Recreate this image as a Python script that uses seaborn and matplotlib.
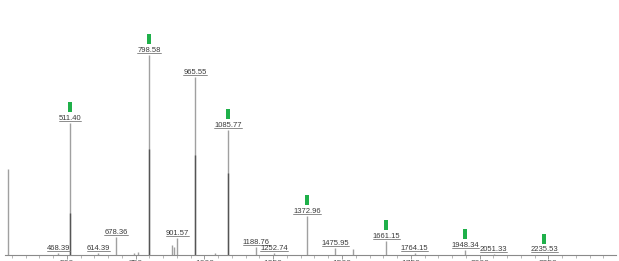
import numpy as np
import pandas as pd
import matplotlib
matplotlib.use("Agg")
import matplotlib.pyplot as plt
import seaborn as sns

# ---- data ----
peak_mz = [287.0, 468.39, 511.40, 614.39, 678.36, 745.0, 758.0, 798.58, 882.0, 888.0,
           901.57, 965.55, 1040.0, 1085.77, 1188.76, 1252.74, 1372.96, 1475.95, 1540.0,
           1661.15, 1764.15, 1948.34, 2051.33, 2235.53]
peak_int = [43.0, 1.0, 66.0, 1.0, 9.0, 1.0, 1.5, 100.0, 5.0, 4.0,
            8.5, 89.0, 1.0, 62.5, 4.0, 1.0, 19.5, 3.5, 3.0,
            7.0, 1.0, 2.5, 0.3, 0.2]
# darker lower portion of the main peaks
dark_mz = [511.40, 798.58, 965.55, 1085.77]
dark_int = [21.0, 53.0, 50.0, 41.0]
label_mz = [468.39, 511.40, 614.39, 678.36, 798.58, 901.57, 965.55, 1085.77, 1188.76,
            1252.74, 1372.96, 1475.95, 1661.15, 1764.15, 1948.34, 2051.33, 2235.53]
label_text = ["468.39", "511.40", "614.39", "678.36", "798.58", "901.57", "965.55", "1085.77",
              "1188.76", "1252.74", "1372.96", "1475.95", "1661.15", "1764.15", "1948.34",
              "2051.33", "2235.53"]
marked_mz = [511.40, 798.58, 1085.77, 1372.96, 1661.15, 1948.34, 2235.53]
tick_values = [500, 750, 1000, 1250, 1500, 1750, 2000, 2250]

sns.set_theme(style="white")
plt.rcParams['font.family'] = ['Liberation Sans', 'DejaVu Sans']

W, H = 619, 261
fig = plt.figure(figsize=(W / 100, H / 100), dpi=100)
ax = fig.add_axes([5 / W, 6 / H, 611 / W, 255 / H])
ax.set_xlim(275, 2496)
ax.set_ylim(0, 127.5)

df = pd.DataFrame({"mz": peak_mz, "intensity": peak_int})
ax.vlines(df["mz"], 0, df["intensity"], color="#a0a0a0", linewidth=1.0)
ax.vlines(dark_mz, 0, dark_int, color="#555555", linewidth=1.0)

lookup = dict(zip(peak_mz, peak_int))
texts = []
for mz, t in zip(label_mz, label_text):
    y = lookup[mz]
    tx = ax.text(mz, y + 0.6, t, ha="center", va="bottom", fontsize=5.5,
                 color="#3a3a3a", clip_on=False)
    texts.append(tx)

mk = pd.DataFrame({"mz": marked_mz, "y": [lookup[m] + 8.0 for m in marked_mz]})
rect = [(-0.2, -0.5), (0.2, -0.5), (0.2, 0.5), (-0.2, 0.5), (-0.2, -0.5)]
sns.scatterplot(data=mk, x="mz", y="y", marker=rect, s=52, color="#1fb04a",
                edgecolor="none", ax=ax, legend=False, clip_on=False)

# underline the labels
fig.canvas.draw()
inv = ax.transData.inverted()
for tx in texts:
    bb = tx.get_window_extent()
    (x0, y0), (x1, _) = inv.transform([(bb.x0, bb.y0 + 1), (bb.x1, bb.y0 + 1)])
    ax.plot([x0, x1], [y0, y0], color="#7a7a7a", linewidth=0.6, clip_on=False)

for s in ["left", "right", "top"]:
    ax.spines[s].set_visible(False)
ax.spines["bottom"].set_color("#8a8a8a")
ax.spines["bottom"].set_linewidth(0.8)
ax.set_yticks([])
ax.set_xticks(tick_values)
ax.set_xticklabels([str(v) for v in tick_values])
ax.set_xticks(np.arange(300, 2500, 50), minor=True)
ax.tick_params(axis="x", which="major", length=3, width=0.6, color="#8a8a8a",
               labelsize=6, labelcolor="#555555", pad=0.5, bottom=True)
ax.tick_params(axis="x", which="minor", length=2, width=0.5, color="#9a9a9a", bottom=True)
ax.set_xlabel("")
ax.set_ylabel("")

fig.savefig("out.png", dpi=100)
